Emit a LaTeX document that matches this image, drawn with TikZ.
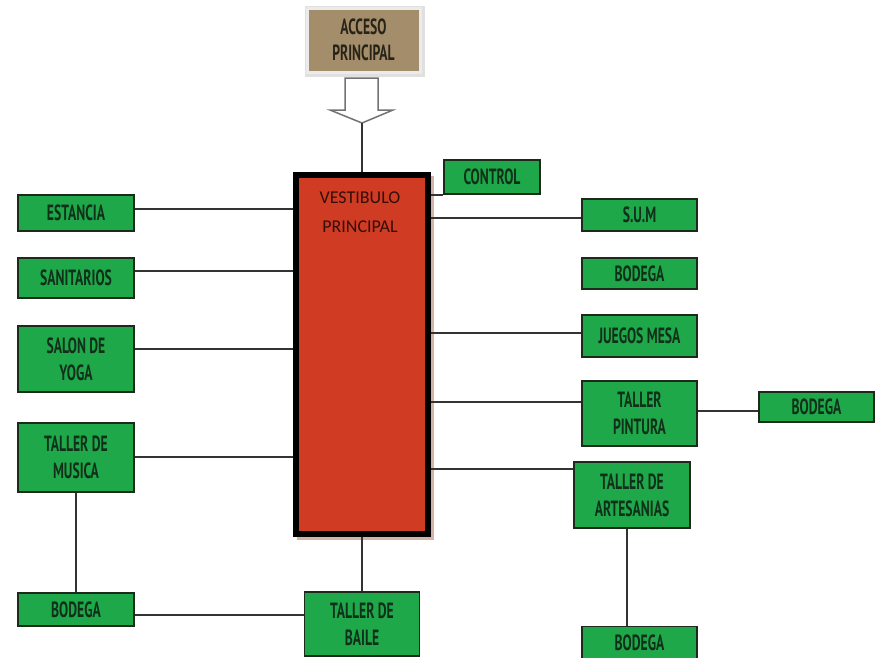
\documentclass[tikz,border=0pt]{standalone}
\usepackage{fontspec}
\setmainfont{PT Sans}
\newfontfamily\boxfont{PT Sans}[FakeStretch=0.62]
\newfontfamily\vestfont{Carlito}
\definecolor{gfill}{HTML}{1FA84A}
\definecolor{gdraw}{HTML}{1C2A1C}
\definecolor{gtext}{HTML}{10301A}
\definecolor{vred}{HTML}{D03B24}
\definecolor{tan}{HTML}{A48D6B}
\definecolor{lin}{HTML}{333333}
\definecolor{acctext}{HTML}{282418}
\definecolor{vshadow}{HTML}{D2B5A8}
\definecolor{vtext}{HTML}{320E06}
\begin{document}
\begin{tikzpicture}[x=1pt,y=-1pt,
  gbox/.style={draw=gdraw,fill=gfill,line width=1.5pt,inner sep=0pt,align=center,
    text=gtext,font=\boxfont\bfseries\fontsize{22}{27}\selectfont},
  conn/.style={draw=lin,line width=1.5pt}]
\useasboundingbox (0,0) rectangle (888,657);
\fill[white] (0,0) rectangle (888,657);
% acceso
\fill[black!12] (305,6) rectangle (425,77);
\node[draw=black!8,line width=3pt,fill=tan,inner sep=0pt,minimum width=113pt,minimum height=64pt,
  align=center,text=acctext,font=\boxfont\bfseries\fontsize{22}{26}\selectfont]
  (acc) at (363.5,40) {ACCESO\\PRINCIPAL};
% vestibulo
\fill[vshadow] (297,176) rectangle (434,540);
\node[draw=black,line width=6pt,fill=vred,minimum width=132pt,minimum height=359pt,inner sep=0pt]
  (vest) at (362,354.5) {};
\node[align=center,text=vtext,font=\vestfont\fontsize{18}{29}\selectfont]
  (vtxt) at (360,212) {VESTIBULO\\PRINCIPAL};
% hollow arrow
\coordinate (tip) at (362,123);
\draw[draw=black!55,fill=white,line width=1.5pt,line join=miter]
  (345,78) -- (378,78) -- (378,110) -- (393,110) -- (tip) -- (330,110) -- (345,110) -- cycle;
\draw[conn] (tip) -- (vest.north);
% left boxes
\node[gbox,minimum width=116pt,minimum height=36pt] (est) at (76,213) {ESTANCIA};
\node[gbox,minimum width=116pt,minimum height=40pt] (san) at (76,278) {SANITARIOS};
\node[gbox,minimum width=116pt,minimum height=66pt] (yoga) at (76,359) {SALON DE\\YOGA};
\node[gbox,minimum width=116pt,minimum height=69pt] (mus) at (76,457.5) {TALLER DE\\MUSICA};
\node[gbox,minimum width=116pt,minimum height=33pt] (bodl) at (76,609.5) {BODEGA};
\node[gbox,minimum width=115pt,minimum height=64pt] (baile) at (362,624) {TALLER DE\\BAILE};
% right boxes
\node[gbox,minimum width=96pt,minimum height=34pt] (ctrl) at (492,177) {CONTROL};
\node[gbox,minimum width=115pt,minimum height=32pt] (sum) at (639.5,215) {S.U.M};
\node[gbox,minimum width=115pt,minimum height=31pt] (bodr1) at (639.5,273.5) {BODEGA};
\node[gbox,minimum width=115pt,minimum height=42pt] (jue) at (639.5,336) {JUEGOS MESA};
\node[gbox,minimum width=115pt,minimum height=65pt] (pint) at (639.5,413.5) {TALLER\\PINTURA};
\node[gbox,minimum width=115pt,minimum height=30pt] (bodr2) at (816.5,407) {BODEGA};
\node[gbox,minimum width=116pt,minimum height=66pt] (art) at (632,495) {TALLER DE\\ARTESANIAS};
\node[gbox,minimum width=115pt,minimum height=33pt] (bodr3) at (639.5,643) {BODEGA};
% connectors left
\coordinate (c1) at ([yshift=4pt]est.east);
\draw[conn] (c1) -- (c1 -| vest.west);
\coordinate (c2) at ([yshift=7pt]san.east);
\draw[conn] (c2) -- (c2 -| vest.west);
\coordinate (c3) at ([yshift=10pt]yoga.east);
\draw[conn] (c3) -- (c3 -| vest.west);
\coordinate (c4) at ([yshift=0.5pt]mus.east);
\draw[conn] (c4) -- (c4 -| vest.west);
\draw[conn] (mus.south) -- (bodl.north);
\coordinate (c5) at ([yshift=-5.5pt]bodl.east);
\draw[conn] (c5) -- (c5 -| baile.west);
\draw[conn] (vest.south) -- (baile.north);
% connectors right
\draw[conn] (ctrl.south west -| vest.east) -- (ctrl.south west);
\coordinate (c6) at ([yshift=-3pt]sum.west);
\draw[conn] (c6 -| vest.east) -- (c6);
\coordinate (c7) at ([yshift=3pt]jue.west);
\draw[conn] (c7 -| vest.east) -- (c7);
\coordinate (c8) at ([yshift=11.5pt]pint.west);
\draw[conn] (c8 -| vest.east) -- (c8);
\coordinate (c9) at ([yshift=-4pt]bodr2.west);
\draw[conn] (c9 -| pint.east) -- (c9);
\coordinate (c10) at ([yshift=26pt]art.west);
\draw[conn] (c10 -| vest.east) -- (c10);
\coordinate (c11) at ([xshift=-5pt]art.south);
\draw[conn] (c11) -- (c11 |- bodr3.north);
\end{tikzpicture}
\end{document}
